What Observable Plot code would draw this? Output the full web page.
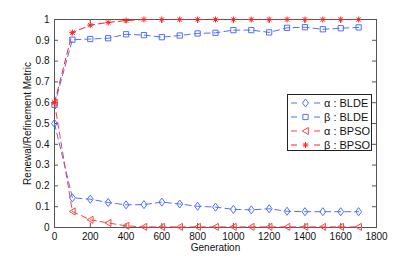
<!DOCTYPE html>
<html><head><meta charset="utf-8">
<script src="https://cdn.jsdelivr.net/npm/d3@7"></script>
<script src="https://cdn.jsdelivr.net/npm/@observablehq/plot@0.6"></script>
<style>
body{margin:0;background:#fff;}
#wrap{position:relative;width:415px;height:256px;font-family:"Liberation Sans",Arial,sans-serif;}
#legend{position:absolute;left:287px;top:94px;width:85px;height:57px;border:1px solid #222;background:#fff;box-sizing:border-box;padding-top:1px;}
.row{height:14px;display:flex;align-items:center;font-size:11px;color:#111;white-space:nowrap;}
.row svg{display:block;margin-left:1px;margin-right:2px;}
</style></head><body><div id="wrap"></div>
<script>
const generations = [0,100,200,300,400,500,600,700,800,900,1000,1100,1200,1300,1400,1500,1600,1700];
const alphaBLDE = [0.50,0.143,0.136,0.120,0.109,0.110,0.122,0.113,0.102,0.098,0.087,0.085,0.090,0.078,0.076,0.076,0.076,0.076];
const betaBLDE  = [0.59,0.903,0.906,0.910,0.929,0.925,0.915,0.923,0.933,0.936,0.949,0.949,0.938,0.960,0.963,0.953,0.958,0.962];
const alphaBPSO = [0.60,0.077,0.037,0.022,0.008,0.003,0.003,0.003,0.003,0.003,0.003,0.003,0.003,0.003,0.003,0.003,0.003,0.003];
const betaBPSO  = [0.60,0.937,0.973,0.986,0.995,1.0,1.0,1.0,1.0,1.0,1.0,1.0,1.0,1.0,1.0,1.0,1.0,1.0];
const xTicks = [0,200,400,600,800,1000,1200,1400,1600,1800];
const yTicks = [0,0.1,0.2,0.3,0.4,0.5,0.6,0.7,0.8,0.9,1];
const xLabel = "Generation";
const yLabel = "Renewal/Refinement Metric";
const seriesNames = ["α : BLDE","β : BLDE","α : BPSO","β : BPSO"];
const seriesColors = ["#4f70ff","#4f70ff","#ff4040","#ff2020"];

// marker shapes (MATLAB style)
const rOf = s => Math.sqrt(s / Math.PI);
const diamondM = {draw(c, s){const r=rOf(s); c.moveTo(0,-r*1.15); c.lineTo(r*0.85,0); c.lineTo(0,r*1.15); c.lineTo(-r*0.85,0); c.closePath();}};
const squareM = {draw(c, s){const r=rOf(s)*0.75; c.rect(-r,-r,2*r,2*r);}};
const triLeftM = {draw(c, s){const r=rOf(s); c.moveTo(-r*0.9,0); c.lineTo(r*0.8,-r); c.lineTo(r*0.8,r); c.closePath();}};
const starM = {draw(c, s){const r=rOf(s)*0.85; c.moveTo(-r,0); c.lineTo(r,0); c.moveTo(0,-r); c.lineTo(0,r);
  const k=r*0.72; c.moveTo(-k,-k); c.lineTo(k,k); c.moveTo(-k,k); c.lineTo(k,-k);}};
const symbols = [diamondM, squareM, triLeftM, starM];

const seriesValues = [alphaBLDE, betaBLDE, alphaBPSO, betaBPSO];
const rows = [];
seriesValues.forEach((vals, i) => vals.forEach((v, j) => rows.push({g: generations[j], v, s: i})));

const marks = [
  Plot.frame({stroke: "#555"}),
  Plot.tickX(xTicks, {x: d => d, insetTop: 204, stroke: "#555"}),
  Plot.tickX(xTicks, {x: d => d, insetBottom: 204, stroke: "#555"}),
  Plot.tickY(yTicks, {y: d => d, insetRight: 318, stroke: "#555"}),
  Plot.tickY(yTicks, {y: d => d, insetLeft: 318, stroke: "#555"}),
  Plot.axisX(xTicks, {tickSize: 0, tickPadding: 5, tickFormat: d => String(d), label: null}),
  Plot.axisY(yTicks, {tickSize: 0, tickPadding: 5, tickFormat: d => String(+d.toFixed(1)), label: null}),
  Plot.text([xLabel], {text: d => d, frameAnchor: "bottom", dy: 20.5, textAnchor: "middle", lineAnchor: "middle", fill: "#111", fontSize: 10}),
  Plot.text([yLabel], {text: d => d, frameAnchor: "left", dx: -27, rotate: -90, textAnchor: "middle", lineAnchor: "middle", fill: "#111", fontSize: 10})
];
[1,0,2,3].forEach(i => {
  const data = rows.filter(d => d.s === i);
  marks.push(Plot.line(data, {x: "g", y: "v", stroke: seriesColors[i], strokeWidth: 1, strokeDasharray: "6,4"}));
});
[1,0,2,3].forEach(i => {
  const data = rows.filter(d => d.s === i);
  marks.push(Plot.dot(data, {x: "g", y: "v", symbol: () => symbols[i], r: 3.5, stroke: seriesColors[i], fill: "none", strokeWidth: 1}));
});

const chart = Plot.plot({
  width: 415, height: 256,
  marginLeft: 54, marginRight: 39, marginTop: 19, marginBottom: 29,
  x: {domain: [0, 1800]},
  y: {domain: [0, 1]},
  style: {fontFamily: "'Liberation Sans', Arial, sans-serif", fontSize: "10px", color: "#111", background: "#fff"},
  marks
});
const wrap = document.getElementById("wrap");
wrap.appendChild(chart);

// legend
const legend = document.createElement("div");
legend.id = "legend";
seriesNames.forEach((name, i) => {
  const row = document.createElement("div");
  row.className = "row";
  const svg = d3.create("svg").attr("width", 33).attr("height", 14);
  svg.append("line").attr("x1", 2).attr("x2", 8).attr("y1", 7).attr("y2", 7).attr("stroke", seriesColors[i]);
  svg.append("line").attr("x1", 25).attr("x2", 31).attr("y1", 7).attr("y2", 7).attr("stroke", seriesColors[i]);
  svg.append("path").attr("d", d3.symbol(symbols[i], 3.5*3.5*Math.PI)()).attr("transform", "translate(16.5,7)")
    .attr("fill", "none").attr("stroke", seriesColors[i]);
  row.appendChild(svg.node());
  const t = document.createElement("span");
  t.textContent = name;
  row.appendChild(t);
  legend.appendChild(row);
});
wrap.appendChild(legend);
</script></body></html>
